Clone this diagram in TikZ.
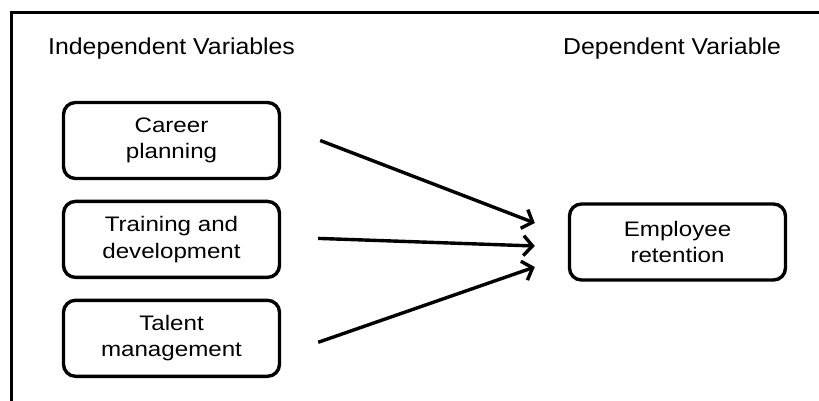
\documentclass[tikz,border=0pt]{standalone}
\usepackage{fontspec}
\setmainfont{Liberation Sans}
\newfontfamily\headfont{Liberation Sans}[FakeStretch=1.08]
\newfontfamily\boxfont{Liberation Sans}[FakeStretch=1.15]
\usetikzlibrary{positioning,arrows.meta}

\begin{document}
\begin{tikzpicture}[x=1pt, y=-1pt, node distance=19.5pt,
    every node/.style = {inner sep=0pt},
    head/.style = {anchor=base west, font=\headfont\fontsize{23}{27}\selectfont},
    varbox/.style = {shape=rectangle, rounded corners=12pt,
      draw, line width=3.4pt, align=center,
      minimum width=216pt, minimum height=76pt,
      font=\boxfont\fontsize{21}{26.5}\selectfont},
    arr/.style = {line width=3.4pt, -{Straight Barb[length=9pt,width=20pt]}}]
    \useasboundingbox (0,0) rectangle (819,401);
    \draw[line width=3.8pt] (11.5,401) -- (11.5,12.5) -- (819,12.5);
    \node[head] (indep) at (48,54.3) {Independent Variables};
    \node[head] (dep) at (563,54.3) {Dependent Variable};
    \node[varbox] (career) at (171.5,140.5) {Career\\planning};
    \node[varbox, below=of career] (training) {Training and\\development};
    \node[varbox, below=of training] (talent) {Talent\\management};
    \node[varbox] (retention) at (677.5,242) {Employee\\retention};
    \draw[arr] ([xshift=39pt]career.east) -- ([xshift=-33pt,yshift=19pt]retention.west);
    \draw[arr] ([xshift=37pt,yshift=1pt]training.east) -- ([xshift=-33pt,yshift=-4pt]retention.west);
    \draw[arr] ([xshift=37pt,yshift=-4pt]talent.east) -- ([xshift=-33pt,yshift=-25pt]retention.west);
  \end{tikzpicture}
\end{document}
